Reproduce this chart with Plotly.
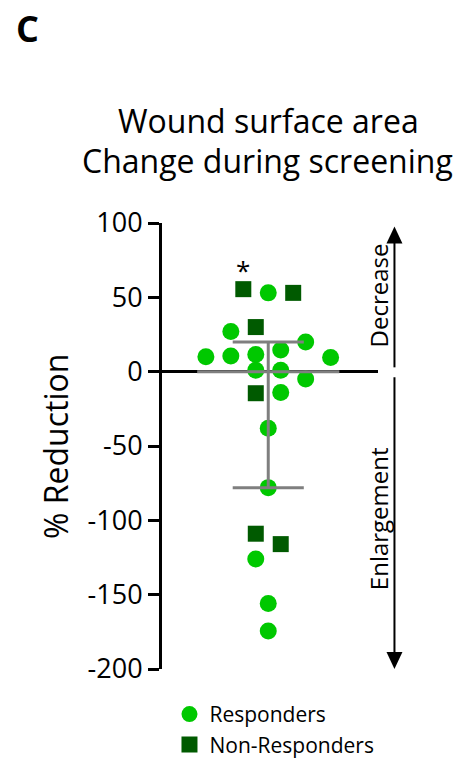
import plotly.graph_objects as go

# ---- data ----
resp_x = [0, -3, -5, -3, -1, 1, 3, 5, -1, 1, 3, 1, 0, 0, -1, 0, 0]
resp_y = [53, 27, 10, 10.5, 11.5, 14.5, 20, 9.5, 1, 1, -5, -14, -38, -78, -126, -156, -174.5]
nonresp_x = [-2, 2, -1, -1, -1, 1]
nonresp_y = [55.5, 53, 30, -14.5, -109, -116]
median_val = 0
q3_val = 20
q1_val = -78
y_ticks = [100, 50, 0, -50, -100, -150, -200]
y_tick_labels = ["100", "50", "0", "-50", "-100", "-150", "-200"]

FONT = "Open Sans"
GRAY = "#7f7f7f"

# plot-area geometry (pixels)
L, R, T, B = 161.5, 378, 222.5, 669
W, H = 461, 758
PW, PH = R - L, B - T
UNIT = 12.5  # px per jitter slot
CX = 268

def px(p):
    return (p - L) / PW
def py(p):
    return (B - p) / PH

fig = go.Figure()
fig.add_trace(go.Scatter(
    x=resp_x, y=resp_y, mode="markers", name="Responders",
    marker=dict(symbol="circle", size=17, color="#00c800", line=dict(width=0)),
))
fig.add_trace(go.Scatter(
    x=nonresp_x, y=nonresp_y, mode="markers", name="Non-Responders",
    marker=dict(symbol="square", size=16, color="#005a00", line=dict(width=0)),
))
# median / IQR bars (drawn over markers)
MED_HW = 5.7
CAP_HW = 2.85
for xs, ys in [([-MED_HW, MED_HW], [median_val, median_val]),
               ([0, 0], [q1_val, q3_val]),
               ([-CAP_HW, CAP_HW], [q3_val, q3_val]),
               ([-CAP_HW, CAP_HW], [q1_val, q1_val])]:
    fig.add_trace(go.Scatter(x=xs, y=ys, mode="lines", line=dict(color=GRAY, width=3),
                             showlegend=False, hoverinfo="skip"))

# asterisk
fig.add_annotation(x=nonresp_x[0], y=nonresp_y[0], text="*", showarrow=False,
                   xanchor="center", yanchor="middle",
                   yshift=19, font=dict(family=FONT, size=26, color="black"))

def label(xp, yp, text, size, angle=0, bold=False):
    fig.add_annotation(xref="paper", yref="paper", x=px(xp), y=py(yp),
                       text=f"<b>{text}</b>" if bold else text, textangle=angle,
                       showarrow=False, xanchor="center", yanchor="middle",
                       font=dict(family=FONT, size=size, color="black"))

label(27, 28, "C", 36, bold=True)
label(268, 120, "Wound surface area", 32)
label(267, 160, "Change during screening", 32)
label(55, 446, "% Reduction", 32, angle=-90)
label(378, 295, "Decrease", 24, angle=-90)
label(378, 519, "Enlargement", 24, angle=-90)

# side arrows
AX = px(394.5)
HW = 8 / PW
fig.add_shape(type="line", xref="paper", yref="paper", x0=AX, x1=AX, y0=py(236), y1=py(367),
              line=dict(color="black", width=2))
fig.add_shape(type="line", xref="paper", yref="paper", x0=AX, x1=AX, y0=py(377), y1=py(660),
              line=dict(color="black", width=2))
fig.add_shape(type="path", xref="paper", yref="paper",
              path=f"M {AX} {py(226)} L {AX-HW} {py(243)} L {AX+HW} {py(243)} Z",
              fillcolor="black", line=dict(width=0))
fig.add_shape(type="path", xref="paper", yref="paper",
              path=f"M {AX} {py(669)} L {AX-HW} {py(652)} L {AX+HW} {py(652)} Z",
              fillcolor="black", line=dict(width=0))

fig.update_layout(
    width=W, height=H,
    margin=dict(l=L, r=W - R, t=T, b=H - B, autoexpand=False),
    plot_bgcolor="white", paper_bgcolor="white",
    font=dict(family=FONT, color="black"),
    showlegend=True,
    legend=dict(x=px(169), y=py(694), xanchor="left", yanchor="top",
                font=dict(family=FONT, size=21, color="black"),
                bgcolor="rgba(0,0,0,0)", tracegroupgap=0, itemwidth=30),
    xaxis=dict(range=[(L - CX) / UNIT, (R - CX) / UNIT], showgrid=False, zeroline=False,
               showticklabels=False, showline=False, ticks=""),
    yaxis=dict(range=[-200, 100], tickvals=y_ticks, ticktext=y_tick_labels,
               showgrid=False, zeroline=True, zerolinecolor="black", zerolinewidth=3,
               showline=True, linecolor="black", linewidth=3,
               ticks="outside", ticklen=11, tickwidth=3, tickcolor="black",
               tickfont=dict(family=FONT, size=27, color="black")),
)

fig.write_html("out.html", config={"displayModeBar": False},
               post_script="document.body.style.margin='0';document.body.style.overflow='hidden';")
